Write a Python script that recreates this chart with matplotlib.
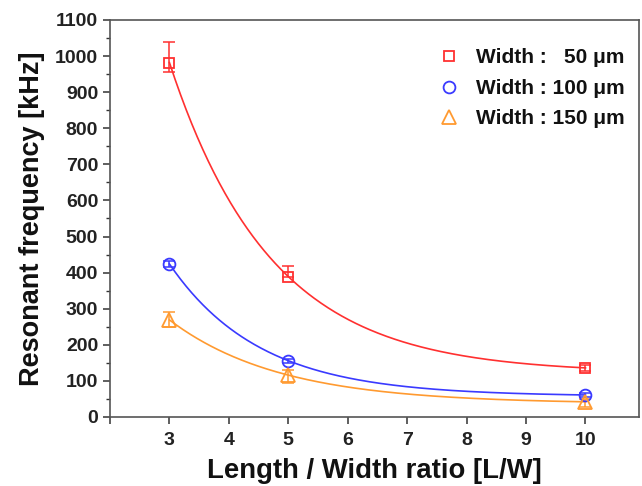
import numpy as np
import matplotlib
matplotlib.use("Agg")
import matplotlib.pyplot as plt
from matplotlib.ticker import MultipleLocator, FixedLocator

plt.rcParams['font.family'] = ['Liberation Sans', 'DejaVu Sans']
plt.rcParams['font.weight'] = 'bold'

# Length/width ratio of the cantilevers
ratio = [3, 5, 10]

# Measured resonant frequency [kHz] with lower/upper error
freq_w50 = [982, 389, 136]
err_lo_w50 = [27, 0, 8]
err_hi_w50 = [58, 30, 8]

freq_w100 = [424, 156, 61]
err_lo_w100 = [8, 6, 6]
err_hi_w100 = [8, 6, 6]

freq_w150 = [269, 116, 42]
err_lo_w150 = [20, 22, 14]
err_hi_w150 = [23, 14, 8]

labels = ["Width :   50 \u03bcm", "Width : 100 \u03bcm", "Width : 150 \u03bcm"]
colors = ["#ff3030", "#3a3aff", "#ff9a30"]
markers = ["s", "o", "^"]
msizes = [7.5, 8.5, 9.5]


def exp_decay_fit(x, y):
    """Exact fit of y = y0 + A*exp(-x/t) through three points."""
    x = np.asarray(x, float)
    y = np.asarray(y, float)
    target = (y[1] - y[2]) / (y[0] - y[1])
    d1 = x[1] - x[0]
    d2 = x[2] - x[1]

    def f(a):
        return a ** d1 * (1 - a ** d2) / (1 - a ** d1) - target

    lo, hi = 1e-4, 1 - 1e-6
    for _ in range(200):
        mid = 0.5 * (lo + hi)
        if f(lo) * f(mid) <= 0:
            hi = mid
        else:
            lo = mid
    a = 0.5 * (lo + hi)
    A = (y[0] - y[1]) / (a ** x[0] - a ** x[1])
    y0 = y[0] - A * a ** x[0]
    return lambda xx: y0 + A * a ** xx


fig = plt.figure(figsize=(6.42, 4.86), dpi=100)
ax = fig.add_axes([0.1713, 0.142, 0.824, 0.817])

xs = np.linspace(ratio[0], ratio[-1], 300)
series = [
    (freq_w50, err_lo_w50, err_hi_w50),
    (freq_w100, err_lo_w100, err_hi_w100),
    (freq_w150, err_lo_w150, err_hi_w150),
]

handles = []
for (vals, elo, ehi), c, m, ms, lab in zip(series, colors, markers, msizes, labels):
    fit = exp_decay_fit(ratio, vals)
    ax.plot(xs, fit(xs), color=c, lw=1.2, zorder=2)
    ax.errorbar(ratio, vals, yerr=[elo, ehi], fmt='none', ecolor=c,
                elinewidth=1.1, capsize=4, capthick=1.1, zorder=3)
    h, = ax.plot(ratio, vals, linestyle='none', marker=m, markersize=ms,
                 markerfacecolor='none', markeredgecolor=c, markeredgewidth=1.3,
                 zorder=4, label=lab)
    handles.append(h)

ax.set_xlim(2, 10.9)
ax.set_ylim(0, 1100)
ax.xaxis.set_major_locator(FixedLocator(range(2, 11)))
ax.set_xticklabels([''] + [str(v) for v in range(3, 11)])
ax.yaxis.set_major_locator(MultipleLocator(100))
ax.yaxis.set_minor_locator(MultipleLocator(50))

ax.tick_params(axis='both', which='major', direction='out', length=5, width=1.1,
               labelsize=14, colors='#333333', labelcolor='#222222')
ax.tick_params(axis='x', which='major', pad=6)
ax.tick_params(axis='y', which='minor', direction='out', length=3, width=1.0,
               colors='#333333')
for lab in ax.get_xticklabels() + ax.get_yticklabels():
    lab.set_fontweight('bold')

for s in ax.spines.values():
    s.set_linewidth(1.2)
    s.set_color('#555555')

ax.set_xlabel("Length / Width ratio [L/W]", fontsize=19.8, fontweight='bold',
              labelpad=6, color='#111111')
ax.set_ylabel("Resonant frequency [kHz]", fontsize=19.5, fontweight='bold',
              labelpad=7, color='#111111')

leg = ax.legend(handles=handles, loc='upper right', bbox_to_anchor=(1.0, 0.965),
                frameon=False, fontsize=15, handlelength=1.2, handletextpad=0.7,
                labelspacing=0.55, borderaxespad=0.3)
for t in leg.get_texts():
    t.set_fontweight('bold')
    t.set_color('#111111')

fig.savefig("out.png", dpi=100)
